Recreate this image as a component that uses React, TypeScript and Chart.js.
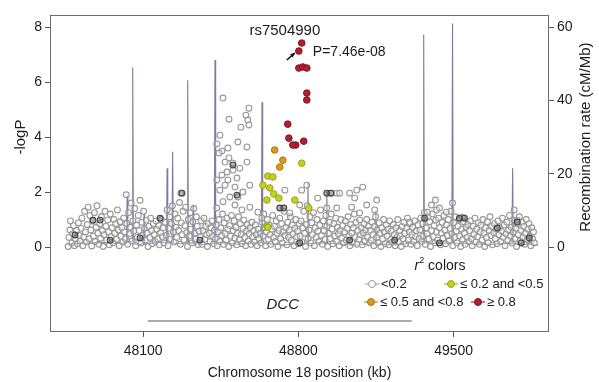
import { useEffect, useRef } from "react";
import { Chart, registerables } from "chart.js";

Chart.register(...registerables);

const FONT = '"Liberation Sans", Arial, Helvetica, sans-serif';

// ---- axis ticks ----
const xTicks = [48100, 48800, 49500];
const yTicksLeft = [0, 2, 4, 6, 8];
const yTicksRight = [0, 20, 40, 60];

// ---- labels ----
const xTitle = "Chromosome 18 position (kb)";
const yTitle = "-logP";
const y2Title = "Recombination rate (cM/Mb)";
const legendLabels = ["<0.2", "≤ 0.2 and <0.5", "≤ 0.5 and <0.8", "≥ 0.8"];
const geneName = "DCC";
const geneSpan: [number, number] = [48121, 49311];
const geneRow = -2.69;
const topSnpName = "rs7504990";
const topSnpLabel = "P=7.46e-08";
const topSnp: [number, number] = [48802, 7.13];

// ---- SNPs: [position kb, -logP] ----
const highR2: [number, number][] = [
  [48815, 7.42], [48802, 7.13], [48802, 6.51], [48820, 6.55], [48838, 6.51],
  [48838, 5.6], [48838, 5.35], [48752, 4.47], [48757, 3.96], [48788, 3.71],
  [48775, 3.71], [48824, 3.85],
];
const midHighR2: [number, number][] = [
  [48693, 3.53], [48730, 3.16], [48716, 2.91],
];
const midLowR2: [number, number][] = [
  [48815, 3.05], [48662, 2.58], [48685, 2.55], [48640, 2.25], [48671, 2.15],
  [48689, 1.93], [48658, 1.71], [48712, 1.78], [48784, 1.71], [48847, 1.42],
  [48658, 0.76], [48662, 0.72],
];
const lowR2Dark: [number, number][] = [
  [47874, 0.98], [47906, 0.98], [47951, 0.25], [48176, 1.05], [48275, 1.96],
  [48505, 2.98], [48523, 1.89], [48716, 1.42], [48734, 1.42], [48928, 1.96],
  [48946, 1.96], [49234, 0.25], [49369, 1.05], [49526, 1.05], [49549, 1.05],
  [49697, 0.69], [49787, 0.91], [49805, 0.15], [47793, 0.44], [48086, 0.33],
  [48356, 0.25], [48806, 0.15], [49031, 0.25], [49436, 0.15], [49841, 0.33],
];
const lowR2: [number, number][] = [
  [47762, 0.02], [47765, 0.35], [47770, 0.62], [47772, 0.95], [47778, 0.15], [47782, 0.48], [47786, 0.78],
  [47790, 0.05], [47795, 0.3], [47800, 0.6], [47804, 0.12], [47808, 0.88], [47812, 0.42], [47816, 0.22],
  [47820, 0.68], [47824, 1.05], [47828, 0.05], [47832, 0.36], [47836, 1.3], [47840, 0.55], [47844, 0.18],
  [47848, 0.82], [47852, 1.45], [47856, 0.3], [47860, 1.15], [47864, 0.62], [47868, 0.04], [47872, 0.95],
  [47876, 0.4], [47880, 1.25], [47884, 0.2], [47888, 0.72], [47892, 1.5], [47896, 0.5], [47900, 0.1],
  [47904, 0.85], [47908, 0.32], [47912, 1.1], [47916, 0.6], [47920, 0.02], [47924, 0.45], [47928, 1.3],
  [47932, 0.75], [47936, 0.25], [47940, 0.98], [47944, 0.55], [47948, 0.08], [47952, 1.2], [47956, 0.38],
  [47960, 0.7], [47964, 0.15], [47968, 1.0], [47972, 0.5], [47976, 0.85], [47980, 0.28], [47984, 1.35],
  [47988, 0.62], [47992, 0.05], [47996, 0.92], [48000, 0.4], [48004, 0.7], [48008, 0.18], [48012, 1.05],
  [48016, 0.55], [48020, 0.3], [48024, 1.9], [48026, 0.85], [48030, 0.1], [48034, 1.25], [48038, 0.48],
  [48042, 0.72], [48046, 1.6], [48050, 0.22], [48054, 0.95], [48058, 0.58], [48062, 1.4], [48066, 0.05],
  [48070, 0.8], [48074, 0.35], [48078, 1.15], [48082, 0.6], [48086, 1.7], [48090, 0.15], [48094, 0.9],
  [48098, 0.42], [48102, 1.3], [48106, 0.68], [48110, 0.25], [48114, 0.98], [48118, 0.5], [48122, 0.02],
  [48126, 0.75], [48130, 0.35], [48134, 1.05], [48138, 0.6], [48142, 0.12], [48146, 0.85], [48150, 0.45],
  [48154, 0.2], [48158, 0.95], [48162, 0.65], [48166, 0.3], [48170, 0.78], [48174, 0.08], [48178, 0.52],
  [48182, 1.0], [48186, 0.38], [48190, 0.7], [48194, 0.15], [48200, 0.9], [48204, 0.42], [48208, 1.35],
  [48212, 0.05], [48216, 0.68], [48220, 1.1], [48224, 0.28], [48228, 0.85], [48232, 1.5], [48236, 0.55],
  [48240, 0.18], [48244, 1.2], [48248, 0.72], [48252, 0.35], [48256, 1.05], [48260, 0.6], [48264, 1.62],
  [48268, 0.1], [48272, 0.88], [48276, 0.45], [48280, 1.3], [48284, 0.25], [48288, 0.78], [48292, 1.45],
  [48296, 0.52], [48300, 0.02], [48304, 1.0], [48308, 0.4], [48312, 1.25], [48316, 0.65], [48320, 0.15],
  [48324, 0.92], [48328, 1.4], [48332, 0.5], [48336, 0.3], [48340, 1.1], [48344, 0.75], [48348, 0.08],
  [48352, 0.58], [48270, 1.96], [48358, 0.35], [48362, 0.95], [48366, 0.1], [48370, 0.6], [48374, 1.05],
  [48378, 0.28], [48382, 0.75], [48386, 0.45], [48390, 0.02], [48394, 0.85], [48398, 0.5], [48402, 0.2],
  [48406, 0.7], [48410, 0.95], [48414, 0.38], [48418, 0.12], [48422, 0.62],
  [48426, 0.3], [48430, 0.8], [48434, 0.05], [48438, 0.55], [48442, 1.0], [48446, 0.2], [48450, 0.7],
  [48454, 0.42], [48458, 1.2], [48462, 0.1], [48466, 0.88], [48470, 0.5], [48474, 0.25], [48478, 1.05],
  [48482, 0.65], [48486, 0.02], [48490, 0.78], [48494, 0.4], [48498, 1.15], [48502, 0.15], [48506, 0.6],
  [48510, 0.95], [48514, 0.32], [48518, 0.72], [48522, 0.08], [48526, 0.5], [48530, 1.1], [48534, 0.28],
  [48538, 0.85], [48542, 0.45], [48546, 0.12], [48550, 0.68], [48554, 0.98], [48558, 0.35], [48562, 0.05],
  [48566, 0.58], [48570, 0.82], [48574, 0.22], [48578, 0.48], [48582, 0.7], [48586, 0.1], [48590, 0.9],
  [48594, 0.38], [48598, 0.6], [48602, 0.18], [48606, 0.8], [48610, 0.45], [48614, 0.05], [48618, 0.65],
  [48622, 0.3],
  [48460, 5.42], [48577, 5.05], [48487, 4.65], [48563, 4.8], [48572, 4.62], [48577, 4.44], [48541, 4.36],
  [48446, 4.07], [48527, 3.82], [48568, 3.64], [48432, 3.75], [48455, 3.49], [48482, 3.6], [48442, 3.42],
  [48487, 3.24], [48469, 3.09], [48505, 3.05], [48568, 3.09], [48536, 2.87], [48505, 2.8], [48478, 2.73],
  [48455, 2.62], [48482, 2.44], [48523, 2.51], [48469, 2.25], [48514, 2.18], [48581, 2.25], [48446, 2.07],
  [48491, 1.82], [48527, 1.82], [48432, 1.42], [48514, 1.53], [48545, 1.35], [48581, 1.45], [48617, 1.27],
  [48432, 2.44], [48550, 2.0], [48460, 1.65],
  [48628, 0.5], [48632, 0.15], [48636, 0.9], [48640, 0.4], [48644, 1.2], [48648, 0.7], [48652, 0.05],
  [48656, 0.55], [48660, 1.0], [48664, 0.28], [48668, 0.8], [48672, 0.45], [48676, 0.1], [48680, 0.65],
  [48684, 1.15], [48688, 0.35], [48692, 0.75], [48696, 0.2], [48700, 0.95], [48704, 0.5], [48708, 0.02],
  [48712, 0.6], [48716, 1.05], [48720, 0.3], [48724, 0.85], [48728, 0.15], [48732, 0.55], [48736, 1.3],
  [48740, 0.42], [48744, 0.7], [48748, 0.08], [48752, 0.9], [48756, 0.35], [48760, 0.62], [48764, 1.1],
  [48768, 0.25], [48772, 0.8], [48776, 0.48], [48780, 0.05], [48784, 0.68], [48788, 1.0], [48792, 0.38],
  [48796, 0.58], [48800, 0.12], [48804, 0.85], [48739, 2.07], [48635, 1.05], [48761, 1.24], [48806, 1.53],
  [48808, 0.4], [48812, 0.95], [48816, 0.18], [48820, 0.7], [48824, 1.3], [48828, 0.5], [48832, 0.02],
  [48836, 0.82], [48840, 1.5], [48844, 0.3], [48848, 0.62], [48852, 1.1], [48856, 0.15], [48860, 0.88],
  [48864, 0.45], [48868, 1.25], [48872, 0.05], [48876, 0.7], [48880, 0.35], [48884, 1.0], [48888, 0.58],
  [48892, 0.2], [48896, 0.8], [48900, 1.35], [48904, 0.42], [48908, 0.1], [48912, 0.95], [48916, 0.6],
  [48920, 0.28], [48924, 1.15], [48928, 0.75], [48932, 0.02], [48936, 0.5], [48940, 0.9], [48944, 0.3],
  [48948, 1.2], [48952, 0.65], [48956, 0.12], [48960, 0.85], [48964, 0.4], [48968, 1.05], [48972, 0.2],
  [48976, 0.72], [48980, 0.48], [48984, 0.05], [48988, 0.6], [48992, 1.0], [48996, 0.32], [49000, 0.78],
  [49004, 0.15], [49008, 0.55], [49012, 0.95], [49016, 0.25], [49020, 0.68], [49024, 1.1], [49028, 0.4],
  [49032, 0.05], [49036, 0.82], [49040, 0.5], [49044, 0.18], [49048, 0.7], [49052, 1.2], [49056, 0.35],
  [49060, 0.9], [49064, 0.1], [49068, 0.6], [49072, 0.28], [49076, 0.98], [49080, 0.45], [49084, 0.7],
  [49088, 0.08], [49092, 0.52], [49096, 0.85], [49100, 0.22], [49104, 0.62], [49108, 1.0], [49112, 0.35],
  [49116, 0.75], [49120, 0.15],
  [48815, 2.07], [48838, 2.25], [48887, 1.78], [48950, 1.96], [48973, 1.96], [48986, 1.96], [49031, 1.96],
  [49063, 2.07], [49090, 2.18], [49054, 1.78], [49108, 1.53], [49153, 1.71], [49040, 1.45], [48973, 1.42],
  [48928, 1.42], [49076, 1.24], [49144, 1.35],
  [49124, 0.6], [49128, 0.25], [49132, 0.9], [49136, 0.45], [49140, 0.05], [49144, 0.75], [49148, 1.1],
  [49152, 0.35], [49156, 0.62], [49160, 0.15], [49164, 0.88], [49168, 0.5], [49172, 0.02], [49176, 0.7],
  [49180, 0.3], [49184, 1.0], [49188, 0.55], [49192, 0.12], [49196, 0.8], [49200, 0.4], [49204, 0.65],
  [49208, 0.08], [49212, 0.95], [49216, 0.28], [49220, 0.58], [49224, 0.18], [49228, 0.82], [49232, 0.45],
  [49236, 0.05], [49240, 0.7], [49244, 0.35], [49248, 1.0], [49252, 0.2], [49256, 0.6], [49260, 0.4],
  [49264, 0.02], [49268, 0.75], [49272, 0.3], [49276, 0.9], [49280, 0.5], [49284, 0.12], [49288, 0.68],
  [49292, 1.05], [49296, 0.25], [49300, 0.55], [49304, 0.85], [49308, 0.1], [49312, 0.45], [49316, 0.72],
  [49320, 0.2], [49324, 0.95], [49328, 0.38], [49332, 0.6], [49336, 0.05], [49340, 0.8], [49344, 0.3],
  [49301, 0.9],
  [49348, 0.62], [49352, 1.05], [49356, 0.2], [49360, 0.85], [49364, 0.4], [49368, 1.25], [49372, 0.1],
  [49376, 0.7], [49380, 0.48], [49384, 1.1], [49388, 0.3], [49392, 0.92], [49396, 0.02], [49400, 0.6],
  [49404, 1.2], [49408, 0.38], [49412, 0.78], [49416, 0.15], [49420, 0.98], [49424, 0.55], [49428, 0.25],
  [49432, 1.05], [49436, 0.7], [49440, 0.08], [49444, 0.5], [49448, 0.9], [49452, 0.32], [49456, 1.15],
  [49460, 0.62], [49464, 0.12], [49468, 0.8], [49472, 0.42], [49476, 1.0], [49480, 0.22], [49484, 0.68],
  [49488, 1.3], [49492, 0.48], [49496, 0.05], [49500, 0.88], [49504, 0.35], [49508, 1.1], [49512, 0.58],
  [49516, 0.15], [49520, 0.75], [49524, 1.0], [49528, 0.4], [49532, 0.02], [49536, 0.65], [49540, 0.28],
  [49544, 0.92], [49548, 0.5], [49552, 0.1], [49556, 0.72], [49560, 0.35], [49564, 0.82], [49568, 0.2],
  [49423, 1.35], [49436, 1.42], [49467, 1.27], [49495, 1.6], [49540, 1.09], [49382, 1.27], [49400, 1.53],
  [49418, 1.71],
  [49572, 0.6], [49576, 0.95], [49580, 0.3], [49584, 0.05], [49588, 0.75], [49592, 0.45], [49596, 1.05],
  [49600, 0.18], [49604, 0.65], [49608, 0.38], [49612, 0.88], [49616, 0.1], [49620, 0.55], [49624, 0.8],
  [49628, 0.25], [49632, 1.0], [49636, 0.5], [49640, 0.02], [49644, 0.7], [49648, 0.35], [49652, 0.92],
  [49656, 0.15], [49660, 0.6], [49664, 1.1], [49668, 0.42], [49672, 0.75], [49676, 0.08], [49680, 0.52],
  [49684, 0.85], [49688, 0.3], [49692, 0.65], [49696, 0.12], [49700, 0.95], [49704, 0.45], [49708, 0.7],
  [49712, 0.2], [49716, 0.58], [49720, 1.05], [49724, 0.35], [49728, 0.8], [49732, 0.05], [49736, 0.48],
  [49740, 0.9], [49744, 0.25], [49748, 0.62], [49752, 1.15], [49756, 0.4], [49760, 0.72], [49764, 0.15],
  [49768, 0.55], [49772, 0.98], [49776, 0.3], [49780, 0.68], [49784, 0.02], [49788, 0.85], [49792, 0.45],
  [49796, 1.1], [49800, 0.22], [49804, 0.6], [49808, 0.9], [49812, 0.35], [49816, 0.75], [49820, 0.1],
  [49824, 0.5], [49828, 1.0], [49832, 0.28], [49836, 0.65], [49840, 0.85], [49844, 0.4], [49848, 0.05],
  [49852, 0.7], [49856, 0.3], [49860, 0.55], [49864, 0.15], [49787, 0.98], [49773, 1.35],
];

// ---- recombination rate: [position kb, cM/Mb] ----
const recombRate: [number, number][] = [
  [47760, 0.8], [47900, 1.2], [48025, 1.0], [48028, 14], [48031, 1.2], [48050, 1.5], [48053, 49],
  [48056, 1.0], [48080, 0.6], [48101, 1.0], [48104, 9], [48107, 0.8], [48180, 1.4], [48205, 1.2],
  [48208, 21.5], [48211, 1.5], [48230, 1.3], [48233, 26], [48236, 1.1], [48270, 0.9], [48298, 1.4],
  [48301, 45.5], [48304, 1.2], [48322, 1.0], [48325, 11.5], [48328, 0.9], [48380, 0.7], [48421, 1.1],
  [48424, 51], [48427, 1.3], [48520, 0.8], [48633, 1.2], [48636, 39.5], [48639, 1.0], [48740, 0.6],
  [48840, 1.1], [48843, 17.7], [48846, 0.9], [48900, 1.2], [48925, 1.0], [48928, 15.5], [48931, 1.1],
  [49050, 0.5], [49146, 0.9], [49149, 10], [49152, 0.8], [49250, 0.6], [49362, 1.5], [49365, 58],
  [49368, 1.2], [49430, 0.9], [49492, 1.3], [49495, 61], [49498, 1.1], [49640, 0.7], [49763, 1.0],
  [49766, 21.5], [49769, 0.9], [49800, 0.6], [49839, 0.8], [49842, 5.5], [49845, 0.7], [49880, 0.5],
];

const COL_GRAY = "#979797";
const COL_DARK = "#444";
const COL_YEL = "#c5cf22";
const COL_YEL_B = "#9aa31a";
const COL_ORA = "#d99a1f";
const COL_ORA_B = "#a97616";
const COL_RED = "#b2202e";
const COL_RED_B = "#7d1520";
const COL_REC = "#7c7c9c";
const TXT = "#1c1c1c";

const toXY = (arr: [number, number][]) => arr.map(([x, y]) => ({ x, y }));

const overlay = {
  id: "overlay",
  afterDraw(chart: any) {
    const { ctx, chartArea: ca, scales } = chart;
    const sx = scales.x, sy = scales.y, sy2 = scales.y2;
    ctx.save();
    // frame
    ctx.strokeStyle = "#6b6b6b";
    ctx.lineWidth = 1;
    ctx.strokeRect(ca.left + 0.5, ca.top + 0.5, ca.right - ca.left - 1, ca.bottom - ca.top - 1);

    // y titles
    ctx.fillStyle = TXT;
    ctx.textAlign = "center";
    ctx.textBaseline = "middle";
    ctx.font = `15px ${FONT}`;
    ctx.save();
    ctx.translate(21, sy.getPixelForValue(4));
    ctx.rotate(-Math.PI / 2);
    ctx.fillText(yTitle, 0, 0);
    ctx.restore();
    ctx.save();
    ctx.translate(586, sy2.getPixelForValue(30));
    ctx.rotate(-Math.PI / 2);
    ctx.fillText(y2Title, 0, 0);
    ctx.restore();

    // gene label
    ctx.font = `italic 15px ${FONT}`;
    ctx.fillText(geneName, sx.getPixelForValue((geneSpan[0] + geneSpan[1]) / 2) + 3, sy.getPixelForValue(geneRow) - 16);

    // top SNP annotation
    const px = sx.getPixelForValue(topSnp[0]);
    const py = sy.getPixelForValue(topSnp[1]);
    ctx.font = `15px ${FONT}`;
    ctx.fillText(topSnpName, px - 14, py - 20);
    ctx.textAlign = "left";
    ctx.font = `14px ${FONT}`;
    ctx.fillText(topSnpLabel, px + 14, py + 1);
    // arrow
    const tx = px - 4, ty = py + 2, fx = px - 12, fy = py + 9;
    ctx.strokeStyle = "#111";
    ctx.fillStyle = "#111";
    ctx.lineWidth = 1.6;
    ctx.beginPath();
    ctx.moveTo(fx, fy);
    ctx.lineTo(tx, ty);
    ctx.stroke();
    const ang = Math.atan2(ty - fy, tx - fx);
    ctx.beginPath();
    ctx.moveTo(tx, ty);
    ctx.lineTo(tx - 5 * Math.cos(ang - 0.45), ty - 5 * Math.sin(ang - 0.45));
    ctx.lineTo(tx - 5 * Math.cos(ang + 0.45), ty - 5 * Math.sin(ang + 0.45));
    ctx.closePath();
    ctx.fill();

    // legend
    ctx.fillStyle = TXT;
    ctx.textBaseline = "middle";
    const ty0 = 266;
    ctx.font = `italic 14px ${FONT}`;
    const wr = ctx.measureText("r").width;
    ctx.font = `9px ${FONT}`;
    const w2 = ctx.measureText("2").width;
    ctx.font = `14px ${FONT}`;
    const wc = ctx.measureText(" colors").width;
    let lx = 440 - (wr + w2 + wc) / 2;
    ctx.textAlign = "left";
    ctx.font = `italic 14px ${FONT}`;
    ctx.fillText("r", lx, ty0);
    lx += wr;
    ctx.font = `9px ${FONT}`;
    ctx.fillText("2", lx, ty0 - 5);
    lx += w2;
    ctx.font = `14px ${FONT}`;
    ctx.fillText(" colors", lx, ty0);

    const items = [
      { x: 372, y: 284, fill: "#ffffff", stroke: COL_GRAY, text: legendLabels[0] },
      { x: 451, y: 284, fill: COL_YEL, stroke: COL_YEL_B, text: legendLabels[1] },
      { x: 371, y: 302, fill: COL_ORA, stroke: COL_ORA_B, text: legendLabels[2] },
      { x: 478, y: 302, fill: COL_RED, stroke: COL_RED_B, text: legendLabels[3] },
    ];
    for (const it of items) {
      ctx.strokeStyle = it.stroke;
      ctx.lineWidth = 1;
      ctx.beginPath();
      ctx.moveTo(it.x - 7, it.y);
      ctx.lineTo(it.x + 7, it.y);
      ctx.stroke();
      ctx.beginPath();
      ctx.arc(it.x, it.y, 3.5, 0, Math.PI * 2);
      ctx.fillStyle = it.fill;
      ctx.fill();
      ctx.stroke();
      ctx.fillStyle = TXT;
      ctx.font = `13px ${FONT}`;
      ctx.fillText(it.text, it.x + 9, it.y);
    }
    ctx.restore();
  },
};

export default function App() {
  const ref = useRef<HTMLCanvasElement | null>(null);
  useEffect(() => {
    if (!ref.current) return;
    const tickFont = { family: FONT, size: 14 };
    const grid = { display: true, drawOnChartArea: false, drawTicks: true, tickLength: 5, color: "#555" };
    const chart = new Chart(ref.current, {
      type: "scatter",
      data: {
        datasets: [
          {
            label: "r2 >= 0.8", data: toXY(highR2), yAxisID: "y",
            pointRadius: 3.3, pointBackgroundColor: COL_RED, pointBorderColor: COL_RED_B, pointBorderWidth: 1,
          },
          {
            label: "0.5-0.8", data: toXY(midHighR2), yAxisID: "y",
            pointRadius: 3.3, pointBackgroundColor: COL_ORA, pointBorderColor: COL_ORA_B, pointBorderWidth: 1,
          },
          {
            label: "0.2-0.5", data: toXY(midLowR2), yAxisID: "y",
            pointRadius: 3.3, pointBackgroundColor: COL_YEL, pointBorderColor: COL_YEL_B, pointBorderWidth: 1,
          },
          {
            label: "<0.2 dark", data: toXY(lowR2Dark), yAxisID: "y",
            pointRadius: 2.9, pointBackgroundColor: "rgba(90,90,90,0.45)", pointBorderColor: COL_DARK, pointBorderWidth: 1.1,
          },
          {
            label: "<0.2", data: toXY(lowR2), yAxisID: "y",
            pointRadius: 2.9, pointBackgroundColor: "rgba(255,255,255,0.3)", pointBorderColor: COL_GRAY, pointBorderWidth: 1.1,
          },
          {
            label: "gene", type: "line", data: toXY([[geneSpan[0], geneRow], [geneSpan[1], geneRow]]), yAxisID: "y",
            borderColor: "#5a5a5a", borderWidth: 1.2, pointRadius: 0, showLine: true,
          } as any,
          {
            label: "recomb", type: "line", data: toXY(recombRate), yAxisID: "y2",
            borderColor: COL_REC, borderWidth: 1.1, pointRadius: 0, tension: 0, showLine: true,
          } as any,
        ],
      },
      options: {
        animation: false,
        responsive: false,
        devicePixelRatio: 1,
        layout: { padding: { top: 15, left: 0, right: 0, bottom: 0 } },
        plugins: { legend: { display: false }, tooltip: { enabled: false } },
        scales: {
          x: {
            type: "linear", min: 47680, max: 49930, position: "bottom",
            afterBuildTicks: (s: any) => { s.ticks = xTicks.map((v) => ({ value: v })); },
            afterFit: (s: any) => { s.height = 50; },
            ticks: { font: tickFont, color: TXT, padding: 6, maxRotation: 0, callback: (v: any) => String(v) },
            grid,
            border: { display: false },
            title: { display: true, text: xTitle, font: tickFont, color: TXT, padding: { top: 0, bottom: 0 } },
          },
          y: {
            type: "linear", min: -3.09, max: 8.44, position: "left",
            afterBuildTicks: (s: any) => { s.ticks = yTicksLeft.map((v) => ({ value: v })); },
            afterFit: (s: any) => { s.width = 50; },
            ticks: { font: tickFont, color: TXT, padding: 3, callback: (v: any) => String(v) },
            grid,
            border: { display: false },
          },
          y2: {
            type: "linear", min: -23.18, max: 63.3, position: "right",
            afterBuildTicks: (s: any) => { s.ticks = yTicksRight.map((v) => ({ value: v })); },
            afterFit: (s: any) => { s.width = 50; },
            ticks: { font: tickFont, color: TXT, padding: 3, callback: (v: any) => String(v) },
            grid,
            border: { display: false },
          },
        },
      },
      plugins: [overlay],
    } as any);
    return () => chart.destroy();
  }, []);
  return (
    <div style={{ position: "fixed", left: 0, top: 0, width: 599, height: 382, background: "#fff" }}>
      <canvas ref={ref} width={599} height={382} style={{ display: "block" }} />
    </div>
  );
}
